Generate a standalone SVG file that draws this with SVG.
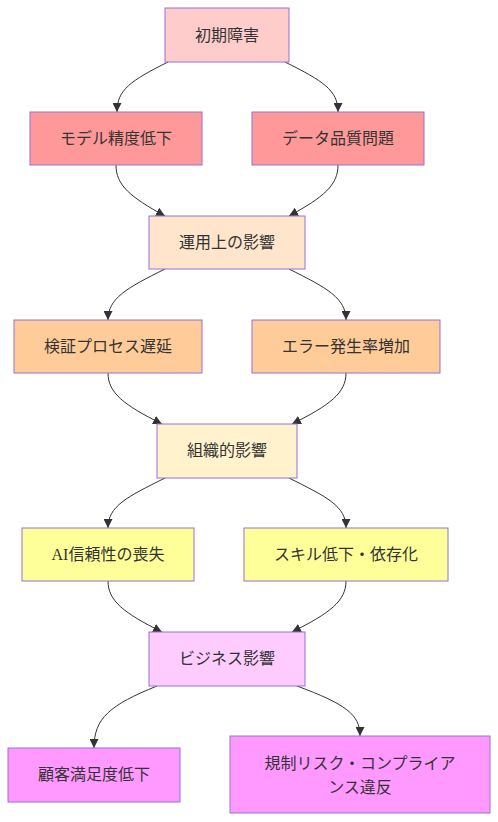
<svg xmlns="http://www.w3.org/2000/svg" width="498" height="822" viewBox="0 0 498 822">
<style>
.n rect{stroke:#9370DB;stroke-width:1}
.n text{font-family:"Liberation Serif","Noto Sans CJK JP",serif;font-size:16px;fill:#333;text-anchor:middle}
.e path{fill:none;stroke:#333;stroke-width:1;marker-end:url(#arr)}
</style>
<defs>
<marker id="arr" viewBox="0 0 10 10" refX="10" refY="5" markerWidth="9" markerHeight="9" markerUnits="userSpaceOnUse" orient="auto">
<path d="M0,0 L10,5 L0,10 z" fill="#333"/>
</marker>
</defs>
<rect width="498" height="822" fill="#fff"/>
<g class="e" id="connectors">
<path d="M168,62 C130,81 117,90 117,112"/>
<path d="M285,62 C323,81 338,90 338,112"/>
<path d="M116,165 C116,185 130,197 165,216"/>
<path d="M338,165 C338,185 324,197 289,216"/>
<path d="M165,269 C127,288 108,298 108,320"/>
<path d="M289,269 C327,288 346,298 346,320"/>
<path d="M108,373 C108,393 124,405 162,424"/>
<path d="M346,373 C346,393 330,405 292,424"/>
<path d="M165,478 C127,497 108,506 108,528"/>
<path d="M289,478 C327,497 346,506 346,528"/>
<path d="M108,581 C108,601 124,613 162,632"/>
<path d="M346,581 C346,601 330,613 292,632"/>
<path d="M157,686 C110,705 94,718 94,748"/>
<path d="M297,686 C345,704 360,714 360,736"/>
</g>
<g class="n" id="n1"><rect x="165" y="8" width="124" height="54" fill="#ffcccc"/><text x="227" y="41">初期障害</text></g>
<g class="n" id="n2"><rect x="30" y="112" width="172" height="53" fill="#ff9999"/><text x="116" y="144">モデル精度低下</text></g>
<g class="n" id="n3"><rect x="252" y="112" width="172" height="53" fill="#ff9999"/><text x="338" y="144">データ品質問題</text></g>
<g class="n" id="n4"><rect x="149" y="216" width="156" height="53" fill="#ffe5cc"/><text x="227" y="248">運用上の影響</text></g>
<g class="n" id="n5"><rect x="14" y="320" width="188" height="53" fill="#ffcc99"/><text x="108" y="352">検証プロセス遅延</text></g>
<g class="n" id="n6"><rect x="252" y="320" width="188" height="53" fill="#ffcc99"/><text x="346" y="352">エラー発生率増加</text></g>
<g class="n" id="n7"><rect x="157" y="424" width="140" height="54" fill="#fff2cc"/><text x="227" y="456">組織的影響</text></g>
<g class="n" id="n8"><rect x="22" y="528" width="172" height="53" fill="#ffff99"/><text x="108" y="560">AI信頼性の喪失</text></g>
<g class="n" id="n9"><rect x="244" y="528" width="204" height="53" fill="#ffff99"/><text x="346" y="560">スキル低下・依存化</text></g>
<g class="n" id="n10"><rect x="149" y="632" width="156" height="54" fill="#ffccff"/><text x="227" y="664">ビジネス影響</text></g>
<g class="n" id="n11"><rect x="8" y="748" width="172" height="54" fill="#ff99ff"/><text x="94" y="780">顧客満足度低下</text></g>
<g class="n" id="n12"><rect x="230" y="736" width="260" height="77" fill="#ff99ff"/><text x="360" y="769">規制リスク・コンプライア</text><text x="360" y="793">ンス違反</text></g>
</svg>
